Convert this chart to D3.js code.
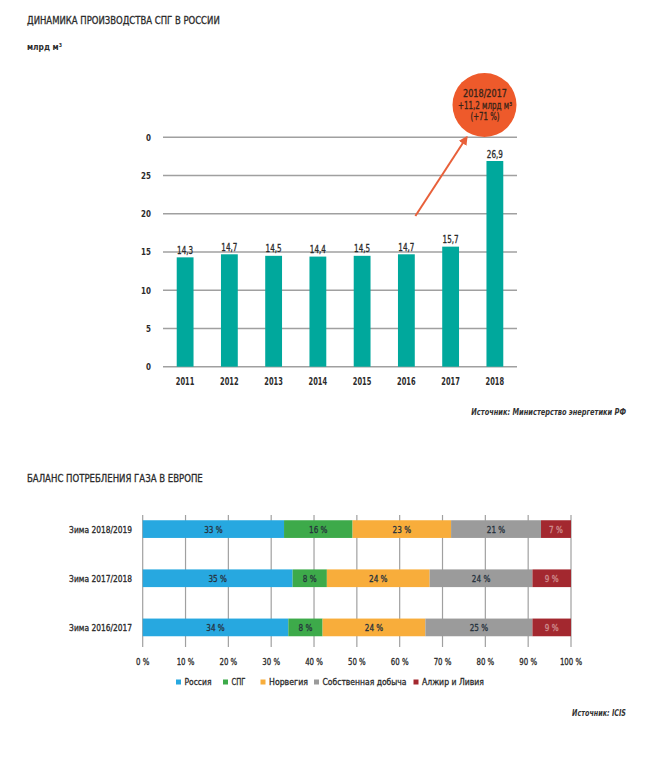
<!DOCTYPE html>
<html><head><meta charset="utf-8">
<script src="https://cdn.jsdelivr.net/npm/d3@7/dist/d3.min.js"></script>
<style>
body{margin:0;background:#fff;}
svg{display:block;font-family:"DejaVu Sans Condensed","DejaVu Sans",sans-serif;font-stretch:condensed;}
</style></head><body>
<svg id="c" width="654" height="765"></svg>
<script>
// ---- Chart 1 data ----
const years = ["2011","2012","2013","2014","2015","2016","2017","2018"];
const production = [14.3,14.7,14.5,14.4,14.5,14.7,15.7,26.9];
const prodLabels = ["14,3","14,7","14,5","14,4","14,5","14,7","15,7","26,9"];
const yTicks = [0,5,10,15,20,25,30];
const yTickLabels = ["0","5","10","15","20","25","0"];
const bubbleLines = ["2018/2017","+11,2 млрд м³","(+71 %)"];

// ---- Chart 2 data ----
const winters = ["Зима 2018/2019","Зима 2017/2018","Зима 2016/2017"];
const sources = ["Россия","СПГ","Норвегия","Собственная добыча","Алжир и Ливия"];
const russia = [33,35,34];
const lng = [16,8,8];
const norway = [23,24,24];
const domestic = [21,24,25];
const algeria = [7,9,9];
const xTicks = [0,10,20,30,40,50,60,70,80,90,100];
const colors = ["#27a8e0","#3daa4a","#f8ad3b","#9b9b9b","#a3282f"];

const svg = d3.select("#c");
const txt = "#2b2b2b";

// text helper: horizontal compression to imitate the condensed face
function T(parent, x, y, s, o) {
  o = o || {};
  const fill = o.fill || txt;
  const t = parent.append("text")
    .attr("font-size", o.size || 9.5)
    .attr("fill", fill)
    .attr("text-anchor", o.anchor || "start")
    .text(s);
  if (o.weight) t.attr("font-weight", o.weight);
  if (o.style) t.attr("font-style", o.style);
  if (!o.weight) t.attr("stroke", fill).attr("stroke-width", o.sw == null ? 0.3 : o.sw);
  let sx = o.sx || 1;
  if (o.w) { const len = t.node().getComputedTextLength(); sx = o.w / len; }
  t.attr("transform", `translate(${x},${y}) scale(${sx},1)`);
  return t;
}

// Titles
T(svg, 27, 24, "ДИНАМИКА ПРОИЗВОДСТВА СПГ В РОССИИ", {size:10.8, w:193});
T(svg, 27, 50, "млрд м³", {size:9.5, weight:"bold", w:35});

// ---- Chart 1 ----
const x1 = d3.scaleBand().domain(years).range([163,517]).paddingInner(0.62).paddingOuter(0.31);
const y1 = d3.scaleLinear().domain([0,30]).range([366.7,137.3]);

const g1 = svg.append("g");
g1.selectAll("line.grid").data(yTicks).join("line")
  .attr("x1",163).attr("x2",517).attr("y1",d=>y1(d)).attr("y2",d=>y1(d))
  .attr("stroke","#a0a0a0").attr("stroke-width",1.5);
yTicks.forEach((d,i)=>T(g1, 151, y1(d)+3.3, yTickLabels[i], {size:9, weight:"bold", anchor:"end", sx:0.88}));

g1.selectAll("rect").data(production).join("rect")
  .attr("x",(d,i)=>x1(years[i])).attr("width",x1.bandwidth())
  .attr("y",d=>y1(d)).attr("height",d=>y1(0)-y1(d))
  .attr("fill","#00a89c");
production.forEach((d,i)=>T(g1, x1(years[i])+x1.bandwidth()/2, y1(d)-3.5, prodLabels[i], {size:10, anchor:"middle", sx:0.8}));
years.forEach(d=>T(g1, x1(d)+x1.bandwidth()/2, 384.5, d, {size:10, weight:"bold", anchor:"middle", sx:0.74}));

// Arrow and bubble
const arrowColor = "#e8603a";
svg.append("defs").append("marker").attr("id","ah").attr("viewBox","0 0 10 10")
  .attr("refX",8).attr("refY",5).attr("markerWidth",4.5).attr("markerHeight",4.5).attr("orient","auto")
  .append("path").attr("d","M0,0L10,5L0,10z").attr("fill",arrowColor);
const ax0 = x1("2016")+x1.bandwidth()/2+9, ay0 = y1(19.7);
const ax1 = x1("2017")+x1.bandwidth()/2+16, ay1 = y1(30);
svg.append("line").attr("x1",ax0).attr("y1",ay0).attr("x2",ax1).attr("y2",ay1)
  .attr("stroke",arrowColor).attr("stroke-width",2).attr("marker-end","url(#ah)");
svg.append("circle").attr("cx",484.5).attr("cy",105).attr("r",32).attr("fill","#ee5a2b");
T(svg, 485, 97, bubbleLines[0], {size:9.8, anchor:"middle", fill:"#3a2418", w:44});
T(svg, 485, 108.5, bubbleLines[1], {size:9.8, anchor:"middle", fill:"#3a2418", w:54});
T(svg, 485, 120, bubbleLines[2], {size:9.8, anchor:"middle", fill:"#3a2418", w:29});

T(svg, 626, 415, "Источник: Министерство энергетики РФ", {size:9, style:"italic", weight:"bold", fill:"#333", anchor:"end", w:155});

// ---- Chart 2 ----
T(svg, 27, 482, "БАЛАНС ПОТРЕБЛЕНИЯ ГАЗА В ЕВРОПЕ", {size:10.8, w:176});

const x2 = d3.scaleLinear().domain([0,100]).range([142.7,571]);
const y2 = d3.scaleBand().domain(winters).range([505.5,651]).paddingInner(0.64).paddingOuter(0.3);
const series = [russia,lng,norway,domestic,algeria];

const g2 = svg.append("g");
g2.selectAll("line.vg").data(xTicks).join("line")
  .attr("x1",d=>x2(d)).attr("x2",d=>x2(d)).attr("y1",515).attr("y2",647)
  .attr("stroke","#a0a0a0").attr("stroke-width",1.2);
xTicks.forEach(d=>T(g2, x2(d), 665, d+" %", {size:9.5, anchor:"middle", sx:0.82}));

winters.forEach((w,r)=>{
  let cum = 0;
  series.forEach((s,k)=>{
    const v = s[r];
    const x0 = x2(cum), xe = x2(cum+v);
    g2.append("rect").attr("x",x0).attr("width",xe-x0).attr("y",y2(w)).attr("height",y2.bandwidth()).attr("fill",colors[k]);
    T(g2, (x0+xe)/2, y2(w)+y2.bandwidth()/2+3.5, v+" %", {size:9.5, anchor:"middle", fill:k===4?"#cf8f8f":"#26323d", sx:0.85});
    cum += v;
  });
  T(g2, 132, y2(w)+y2.bandwidth()/2+3.5, w, {size:9.5, anchor:"end", w:63});
});

// Legend
const legX = [176,223,260.5,314,413.5];
const legW = [27,14,39,84,62];
sources.forEach((s,k)=>{
  svg.append("rect").attr("x",legX[k]).attr("y",679.5).attr("width",5).attr("height",5).attr("fill",colors[k]);
  T(svg, legX[k]+8.5, 685, s, {size:9.5, w:legW[k]});
});

T(svg, 626, 716, "Источник: ICIS", {size:9, style:"italic", weight:"bold", fill:"#333", anchor:"end", w:54});
</script>
</body></html>
